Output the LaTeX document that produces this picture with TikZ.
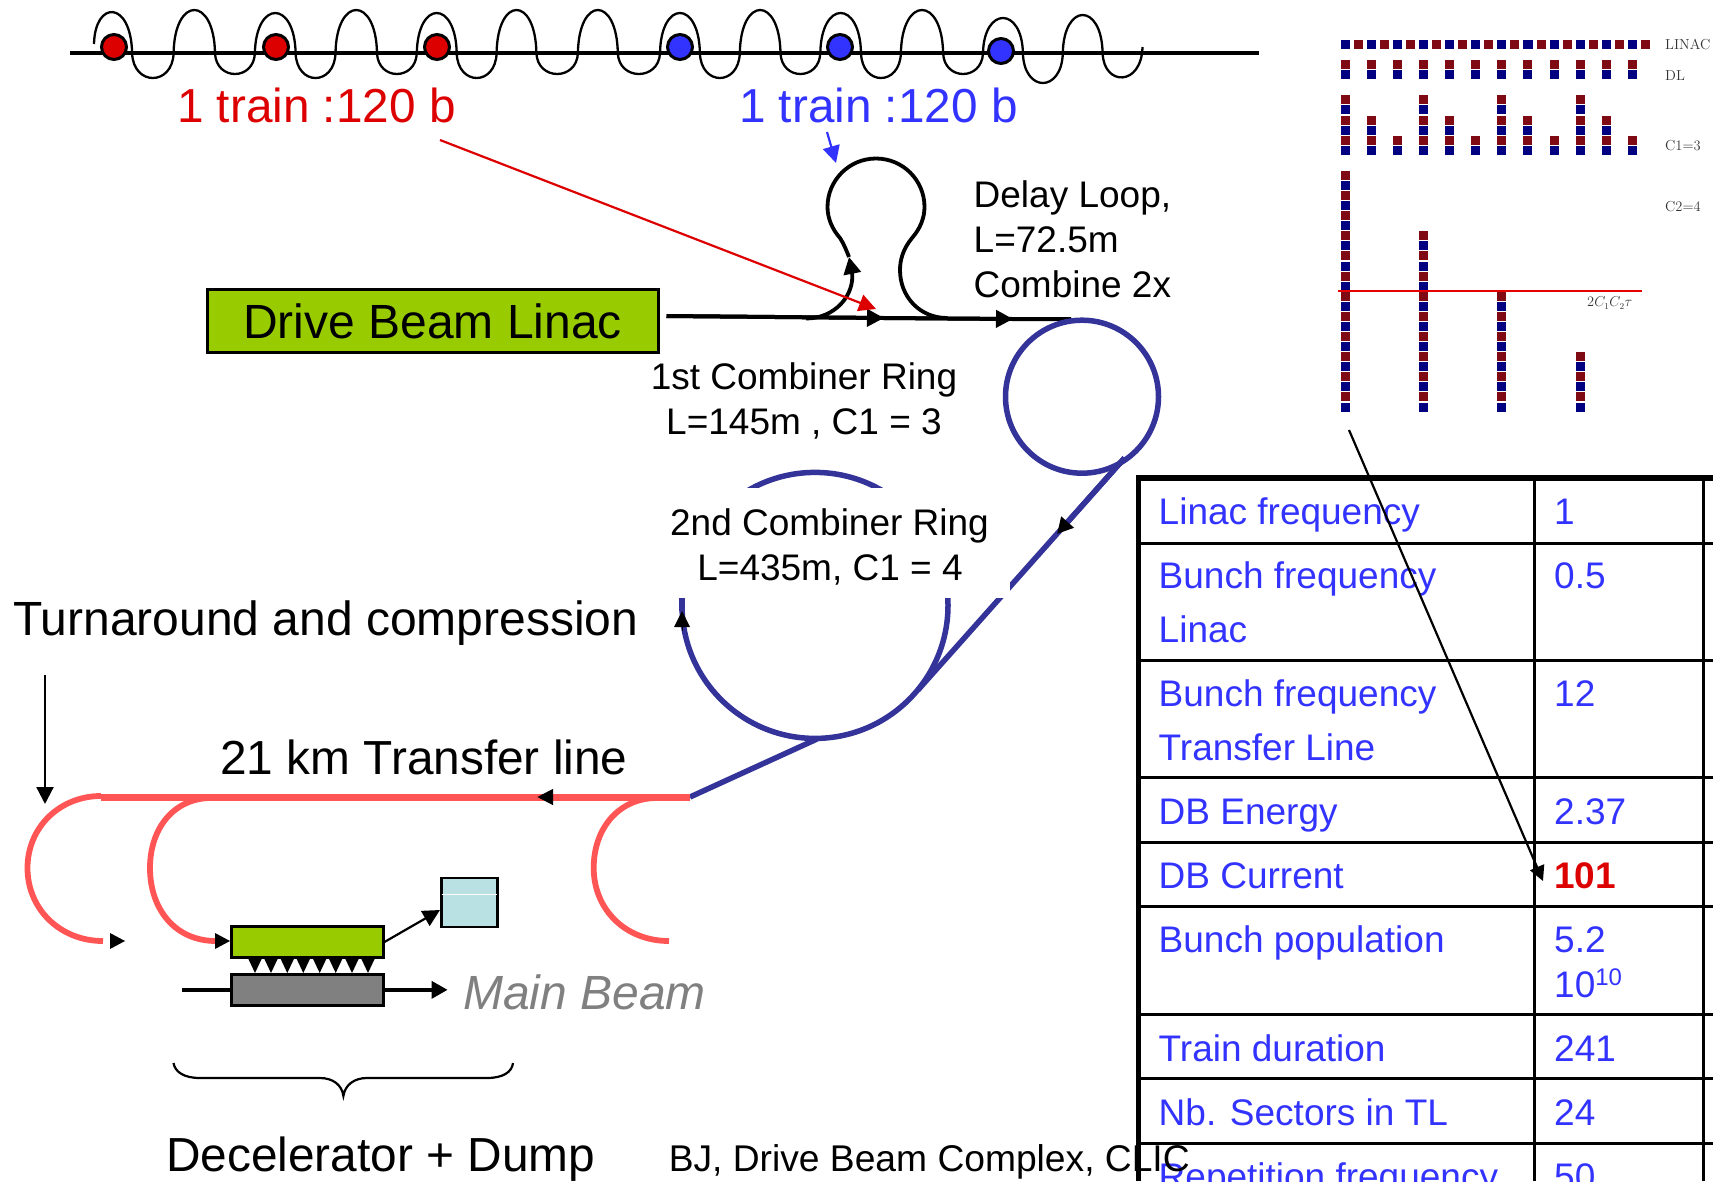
\documentclass[tikz,border=0pt]{standalone}
\usepackage{fontspec}
\usetikzlibrary{arrows.meta,calc}
\newfontfamily\arialf{Liberation Sans}
\definecolor{beamred}{HTML}{DD0000}
\definecolor{beamblue}{HTML}{3333FF}
\definecolor{ringblue}{HTML}{333399}
\definecolor{linepink}{HTML}{FF5555}
\definecolor{boxgreen}{HTML}{99CC00}
\definecolor{boxgray}{HTML}{808080}
\definecolor{dumpcyan}{HTML}{B9E0E3}
\definecolor{sqnavy}{HTML}{000080}
\definecolor{sqred}{HTML}{7F0A14}
\definecolor{labgray}{HTML}{333333}
\tikzset{
  lab/.style={inner sep=0pt,anchor=base west,font=\arialf\fontsize{#1}{#1}\selectfont},
  clab/.style={inner sep=0pt,anchor=base,font=\arialf\fontsize{#1}{#1}\selectfont},
  tablab/.style={inner sep=0pt,anchor=base west,text=beamblue,font=\arialf\fontsize{37}{37}\selectfont},
  smalllab/.style={inner sep=0pt,anchor=west,text=labgray,font=\fontsize{14.5}{14.5}\selectfont},
  head/.style={-{Triangle[length=15pt,width=15pt]}},
  bighead/.style={-{Triangle[length=17pt,width=17pt]}},
  bunch/.style={circle,draw=black,line width=3pt,minimum size=25pt,inner sep=0pt},
  boxn/.style={draw=black,line width=2.7pt,inner sep=0pt,anchor=north west},
  ring/.style={draw=ringblue,line width=5.5pt},
  pink/.style={draw=linepink,line width=5.8pt},
  tabline/.style={draw=black,line width=3pt},
  wave/.style={draw=black,line width=2.3pt},
  mainl/.style={draw=black,line width=4pt},
}
\begin{document}
\begin{tikzpicture}[x=1pt,y=-1pt]
\useasboundingbox (0,0) rectangle (1713,1181);
% ---------- top-right bunch pattern
\foreach \i in {0,...,23}{
  \pgfmathtruncatemacro{\m}{mod(\i,2)}
  \ifnum\m=0 \fill[sqnavy] ({1345+13.07*\i-4.5},39.8) rectangle +(9,9);
  \else \fill[sqred] ({1345+13.07*\i-4.5},39.8) rectangle +(9,9);\fi
}
\foreach \i in {0,...,11}{
  \fill[sqred] ({1345+26.14*\i-4.5},59.8) rectangle +(9,9);
  \fill[sqnavy] ({1345+26.14*\i-4.5},69.8) rectangle +(9,9);
}
\foreach \i in {0,...,11}{
  \pgfmathtruncatemacro{\h}{6-2*mod(\i,3)-1}
  \foreach \j in {0,...,\h}{
    \pgfmathtruncatemacro{\m}{mod(\j,2)}
    \ifnum\m=0 \fill[sqnavy] ({1345+26.14*\i-4.5},{150.3-10.1*\j-4.5}) rectangle +(9,9);
    \else \fill[sqred] ({1345+26.14*\i-4.5},{150.3-10.1*\j-4.5}) rectangle +(9,9);\fi
  }
}
\foreach \c/\n in {0/23,3/17,6/11,9/5}{
  \foreach \j in {0,...,\n}{
    \pgfmathtruncatemacro{\m}{mod(\j,2)}
    \ifnum\m=0 \fill[sqnavy] ({1345+26.14*\c-4.5},{407-10.07*\j-4.5}) rectangle +(9,9);
    \else \fill[sqred] ({1345+26.14*\c-4.5},{407-10.07*\j-4.5}) rectangle +(9,9);\fi
  }
}
\coordinate (redL) at (1338,291);
\coordinate (redR) at (1642,291);
\draw[red!90!black,line width=1.8pt] (redL) -- (redR);
\node[smalllab] (tlinac) at (1665,44) {LINAC};
\node[smalllab] (tdl) at (1665,76) {DL};
\node[smalllab] (tc1) at (1665,146) {C1=3};
\node[smalllab] (tc2) at (1665,207) {C2=4};
\node[inner sep=0pt,anchor=west,text=labgray,font=\fontsize{13.3}{13.3}\selectfont] (ttau) at (1587,303) {$2C_1C_2\tau$};
% ---------- table
\foreach \y in {543,660.5,777.7,842,906,1014.5,1078,1143}{
  \draw[tabline] (1138,\y) -- (1713,\y);
}
\draw[draw=black,line width=5.7pt] (1138.5,1181) -- (1138.5,478) -- (1713,478);
\draw[tabline] (1534.5,478) -- (1534.5,1181);
\draw[tabline] (1703.5,478) -- (1703.5,1181);
\node[tablab] (t1) at (1158.5,524) {Linac frequency};
\node[tablab] (t2) at (1158.5,588) {Bunch frequency};
\node[tablab] (t2b) at (1158.5,642.6) {Linac};
\node[tablab] (t3) at (1158.5,706) {Bunch frequency};
\node[tablab] (t3b) at (1158.5,760) {Transfer Line};
\node[tablab] (t4) at (1158.5,824) {DB Energy};
\node[tablab] (t5) at (1158.5,888.6) {DB Current};
\node[tablab] (t6) at (1158.5,952.5) {Bunch population};
\node[tablab] (t7) at (1158.5,1061) {Train duration};
\node[tablab] (t8) at (1158.5,1125) {Nb. Sectors in TL};
\node[tablab] (t9) at (1158.5,1189) {Repetition frequency};
\node[tablab] (v1) at (1554,524) {1};
\node[tablab] (v2) at (1554,588) {0.5};
\node[tablab] (v3) at (1554,706) {12};
\node[tablab] (v4) at (1554,824) {2.37};
\node[tablab,text=beamred] (v5) at (1554,888.6) {\bfseries 101};
\node[tablab] (v6) at (1554,952.5) {5.2};
\node[tablab] (v6b) at (1554,997) {10\raisebox{12pt}{\fontsize{24}{24}\selectfont 10}};
\node[tablab] (v7) at (1554,1061) {241};
\node[tablab] (v8) at (1554,1125) {24};
\node[tablab] (v9) at (1554,1189) {50};
% ---------- top wave
\coordinate (axisL) at (70,53);
\coordinate (axisR) at (1259,53);
\draw[black,line width=3.5pt] (axisL) -- (axisR);
\draw[wave] (94,44) .. controls (95,0) and (131,0) .. (132.1,53);
\foreach \xa/\xb/\py in {132.1/173.6/78,173.6/215/10,215/254.9/74,254.9/295.6/13,295.6/335.5/78,335.5/377/10,377/416.8/74,416.8/456.7/13,456.7/496.6/78,496.6/536.4/10,536.4/577.9/74,577.9/617.8/10,617.8/660/74,660/699.9/13,699.9/739.8/78,739.8/780.5/10,780.5/820.3/74,820.3/861/13,861/900.9/78,900.9/943.1/10,943.1/983/74,983/1022.9/18,1022.9/1062.8/83,1062.8/1102.6/15}{
  \pgfmathsetmacro{\cy}{53+(\py-53)/0.75}
  \draw[wave] (\xa,53) .. controls (\xa+1,\cy) and (\xb-1,\cy) .. (\xb,53);
}
\draw[wave] (1102.6,53) .. controls (1103.6,86.5) and (1141.5,86.5) .. (1142.5,47);
\node[bunch,fill=beamred] (b1) at (114,47) {};
\node[bunch,fill=beamred] (b2) at (276,47) {};
\node[bunch,fill=beamred] (b3) at (437,47) {};
\node[bunch,fill=beamblue] (b4) at (680,47) {};
\node[bunch,fill=beamblue] (b5) at (840,47) {};
\node[bunch,fill=beamblue] (b6) at (1001,51) {};
\node[lab=47.7,text=beamred] (trainr) at (177,122) {1 train :120 b};
\node[lab=47.7,text=beamblue] (trainb) at (739,122) {1 train :120 b};
% ---------- delay loop
\node[boxn,fill=boxgreen,minimum width=451pt,minimum height=63pt] (linac) at (206,288) {};
\node[clab=48] (linact) at (432.5,338) {Drive Beam Linac};
\coordinate (mainA) at (666.5,316);
\coordinate (mainB) at (884,318);
\coordinate (mainC) at (1013,319);
\coordinate (mainD) at (1071,319);
\draw[mainl] (mainA) -- (mainB) -- (mainC) -- (mainD);
\draw[mainl,bighead] (mainA) -- (mainB);
\draw[mainl,bighead] (mainB) -- (mainC);
\coordinate (dlIn) at (806,318.5);
\coordinate (dlUp) at (849,257);
\coordinate (dlOut) at (947,318);
\draw[black,line width=3.8pt,bighead] (dlIn) .. controls (835,318.5) and (855,295) .. (852,272) -- (dlUp);
\draw[black,line width=3.8pt] (dlUp) .. controls (847,252) and (844,244) .. (840,238)
  .. controls (832,229) and (827.5,218) .. (827.5,207)
  .. controls (827.5,180.2) and (849.2,158.5) .. (876,158.5)
  .. controls (902.8,158.5) and (924.5,180.2) .. (924.5,207)
  .. controls (924.5,218) and (920,229) .. (912,238)
  .. controls (903,249) and (900,260) .. (900,270)
  .. controls (900,297) and (920,318) .. (dlOut);
% ---------- rings
\node[circle,ring,minimum size=153pt,inner sep=0pt] (ring1) at (1082,396.7) {};
\node[circle,ring,minimum size=266pt,inner sep=0pt] (ring2) at (815,605.4) {};
\coordinate (tanA) at (1124.5,458);
\coordinate (tanM) at (1057,534);
\coordinate (tanB) at (918,690);
\coordinate (outA) at (817,739);
\coordinate (outB) at (690,797);
\draw[ring] (tanA) -- (tanB);
\draw[ring,-{Triangle[length=16pt,width=16pt,color=black]}] (tanA) -- (tanM);
\draw[ring] (outA) -- (outB);
% white label panel over second ring
\node[fill=white,minimum width=361pt,minimum height=110pt,inner sep=0pt] (ring2lab) at (829.5,543) {};
\node[clab=37] (r2a) at (829.5,535) {2nd Combiner Ring};
\node[clab=37] (r2b) at (830,580) {L=435m, C1 = 4};
\coordinate (r2arrowB) at (682,630);
\coordinate (r2arrowT) at (682,611);
\draw[black,line width=0pt,-{Triangle[length=16pt,width=16pt]}] (r2arrowB) -- (r2arrowT);
\draw[ringblue,line width=5.5pt] (682,598) -- (682,611);
% ---------- transfer line and arcs
\coordinate (tlR) at (690,797);
\coordinate (tlM) at (537,797);
\coordinate (tlL) at (101,797);
\draw[draw=linepink,line width=7pt] (tlR) -- (tlL);
\draw[draw=linepink,line width=7pt,-{Triangle[length=16pt,width=15pt,color=black]}] (tlR) -- (tlM);
\draw[pink] (101,796) .. controls (60,796) and (27.5,827) .. (27.5,868) .. controls (27.5,909) and (60,941) .. (103,941);
\draw[pink] (211,798) .. controls (175,798) and (150,827) .. (150,868) .. controls (150,909) and (175,941) .. (216,941);
\draw[pink] (656.6,798) .. controls (620,798) and (593.7,827) .. (593.7,868) .. controls (593.7,909) and (625,941) .. (669,941);
% decelerator
\foreach \t in {255,271,287.3,303.3,319.7,335.7,352,368}{
  \fill[black] (\t-8.5,955) -- (\t+8.5,955) -- (\t,973) -- cycle;
}
\node[boxn,fill=boxgreen,minimum width=152pt,minimum height=31pt] (decel) at (230,925) {};
\node[boxn,fill=boxgray,minimum width=152pt,minimum height=31pt] (mbox) at (230,973) {};
\node[boxn,fill=dumpcyan,minimum width=56pt,minimum height=49pt] (dump) at (440,876.5) {};
\draw[white,line width=1pt] ($(dump.north west)+(1.5,18)$) -- ($(dump.north east)+(-1.5,18)$);
\coordinate (ar1) at (110,941);
\coordinate (ar1t) at (125,941);
\fill[black] (ar1) -- (110,933) -- (ar1t) -- (110,949) -- cycle;
\fill[black] (215,933) -- (230,941) -- (215,949) -- cycle;
\coordinate (dumpIn) at (440,910);
\draw[black,line width=2.2pt,bighead] (decel.east) -- (dumpIn);
\coordinate (mbL) at (182,0 |- mbox.west);
\coordinate (mbR) at (447.6,0 |- mbox.east);
\draw[black,line width=3.5pt] (mbL) -- (mbox.west);
\draw[black,line width=3.5pt,-{Triangle[length=16pt,width=17pt]}] (mbox.east) -- (mbR);
\node[lab=48,text=boxgray] (mainbeam) at (463,1009) {\itshape Main Beam};
% brace
\coordinate (brL) at (173.5,1063);
\coordinate (brR) at (513,1063);
\coordinate (brT) at (343.4,1096);
\draw[black,line width=2.2pt] (brL) .. controls (175,1072) and (184,1078) .. (200,1078) -- (320,1078) .. controls (333,1078) and (342,1085) .. (brT)
  .. controls (345,1085) and (354,1078) .. (367,1078) -- (487,1078) .. controls (503,1078) and (512,1072) .. (brR);
% ---------- labels
\node[lab=37] (dl1) at (973.5,207.7) {Delay Loop,};
\node[lab=37] (dl2) at (973.5,252.7) {L=72.5m};
\node[lab=37] (dl3) at (973.5,297.7) {Combine 2x};
\node[clab=37] (r1a) at (804,389.5) {1st Combiner Ring};
\node[clab=37] (r1b) at (804,434.5) {L=145m , C1 = 3};
\node[lab=48] (turn) at (13,635) {Turnaround and compression};
\node[lab=47.8] (tl) at (220,774) {21 km Transfer line};
\node[lab=47.8] (decd) at (166,1171) {Decelerator + Dump};
\node[lab=37.2] (bj) at (668.6,1171) {BJ, Drive Beam Complex, CLIC};
% ---------- annotation arrows
\coordinate (tcA) at (45,675);
\coordinate (tcB) at (45,804);
\draw[black,line width=2.2pt,bighead] (tcA) -- (tcB);
\coordinate (redA) at (440,140);
\coordinate (redB) at (876,309);
\draw[beamred,line width=2.2pt,bighead] (redA) -- (redB);
\coordinate (bluA) at (827,132);
\coordinate (bluB) at (836,163);
\draw[beamblue,line width=2.2pt,bighead] (bluA) -- (bluB);
\coordinate (curA) at (1349,430);
\coordinate (curB) at (1543,881);
\draw[black,line width=2.2pt,head] (curA) -- (curB);
\end{tikzpicture}
\end{document}
